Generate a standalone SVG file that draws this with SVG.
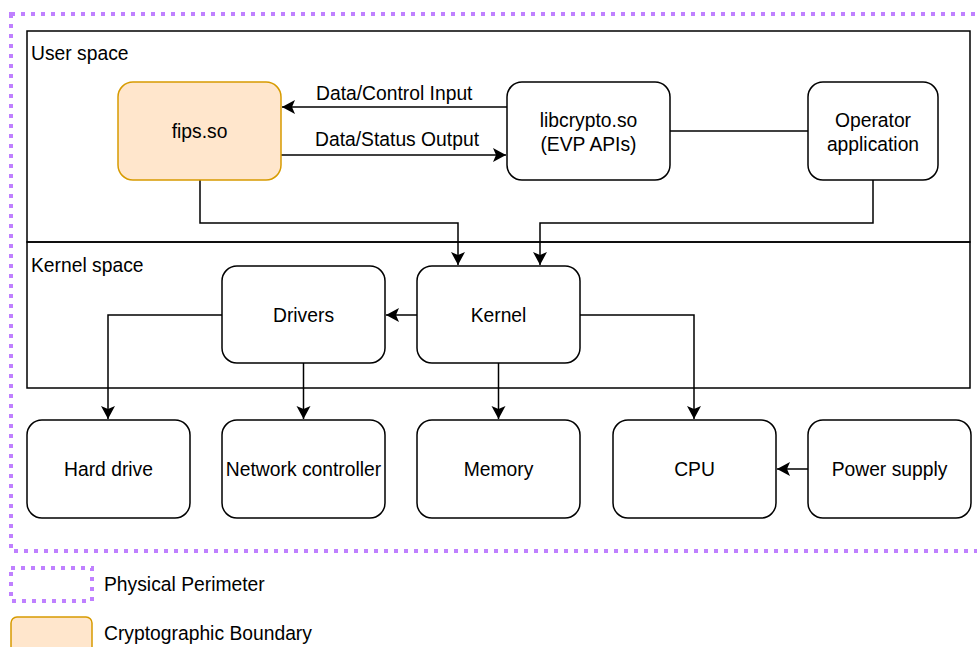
<svg xmlns="http://www.w3.org/2000/svg" width="977" height="647" viewBox="0 0 977 647">
<style>
text{font-family:"Liberation Sans",Arial,sans-serif;font-size:19.3px;fill:#000}
.c{text-anchor:middle}
.box{fill:#fff;stroke:#000;stroke-width:1.5}
.area{fill:none;stroke:#000;stroke-width:1.5}
.crypto{fill:#ffe6cc;stroke:#d79b00;stroke-width:1.5}
.perim{fill:none;stroke:#bf80ff;stroke-width:4;stroke-dasharray:4 6}
.edge{fill:none;stroke:#000;stroke-width:1.5}
.arr{marker-end:url(#ah)}
</style>
<defs>
<marker id="ah" markerUnits="userSpaceOnUse" markerWidth="18" markerHeight="18" viewBox="-14 -9 18 18" refX="0" refY="0" orient="auto">
<path d="M-13,-7 L0,0 L-13,7 L-10,0 Z" fill="#000"/>
</marker>
</defs>
<rect id="physical-perimeter" class="perim" x="11" y="14" width="990" height="537"/>
<g id="user-space"><rect class="area" x="27" y="31" width="943" height="211"/><text x="31" y="60">User space</text></g>
<g id="kernel-space"><rect class="area" x="27" y="242" width="943" height="146"/><text x="31" y="272">Kernel space</text></g>
<g id="connectors">
<path class="edge arr" d="M507,107 H282"/>
<path class="edge arr" d="M281,155 H506"/>
<path class="edge" d="M670,131 H808"/>
<path class="edge arr" d="M200,180 V223 H458 V265"/>
<path class="edge arr" d="M873,180 V223 H540 V265"/>
<path class="edge arr" d="M417,315 H386"/>
<path class="edge arr" d="M222,315 H108 V419"/>
<path class="edge arr" d="M303.5,363 V419"/>
<path class="edge arr" d="M498.5,363 V419"/>
<path class="edge arr" d="M580,315 H694 V419"/>
<path class="edge arr" d="M808,469 H777"/>
</g>
<g id="fips"><rect class="crypto" x="118" y="82" width="163" height="98" rx="15"/><text class="c" x="199.5" y="138">fips.so</text></g>
<g id="libcrypto"><rect class="box" x="507" y="82" width="163" height="98" rx="15"/><text class="c" x="588.5" y="127">libcrypto.so</text><text class="c" x="588.5" y="151">(EVP APIs)</text></g>
<g id="operator"><rect class="box" x="808" y="82" width="130" height="98" rx="15"/><text class="c" x="873" y="127">Operator</text><text class="c" x="873" y="151">application</text></g>
<g id="label-input"><text x="316" y="100">Data/Control Input</text></g>
<g id="label-output"><text x="315" y="146">Data/Status Output</text></g>
<g id="drivers"><rect class="box" x="222" y="266" width="163" height="97" rx="15"/><text class="c" x="303.5" y="322">Drivers</text></g>
<g id="kernel"><rect class="box" x="417" y="266" width="163" height="97" rx="15"/><text class="c" x="498.5" y="322">Kernel</text></g>
<g id="hard-drive"><rect class="box" x="27" y="420" width="163" height="98" rx="15"/><text class="c" x="108.5" y="476">Hard drive</text></g>
<g id="network-controller"><rect class="box" x="222" y="420" width="163" height="98" rx="15"/><text class="c" x="303.5" y="476">Network controller</text></g>
<g id="memory"><rect class="box" x="417" y="420" width="163" height="98" rx="15"/><text class="c" x="498.5" y="476">Memory</text></g>
<g id="cpu"><rect class="box" x="613" y="420" width="163" height="98" rx="15"/><text class="c" x="694.5" y="476">CPU</text></g>
<g id="power-supply"><rect class="box" x="808" y="420" width="163" height="98" rx="15"/><text class="c" x="889.5" y="476">Power supply</text></g>
<g id="legend-perimeter"><rect class="perim" x="11" y="568" width="81" height="33"/><text x="104" y="591">Physical Perimeter</text></g>
<g id="legend-crypto"><rect class="crypto" x="11" y="617" width="81" height="40" rx="6"/><text x="104" y="640">Cryptographic Boundary</text></g>
</svg>
